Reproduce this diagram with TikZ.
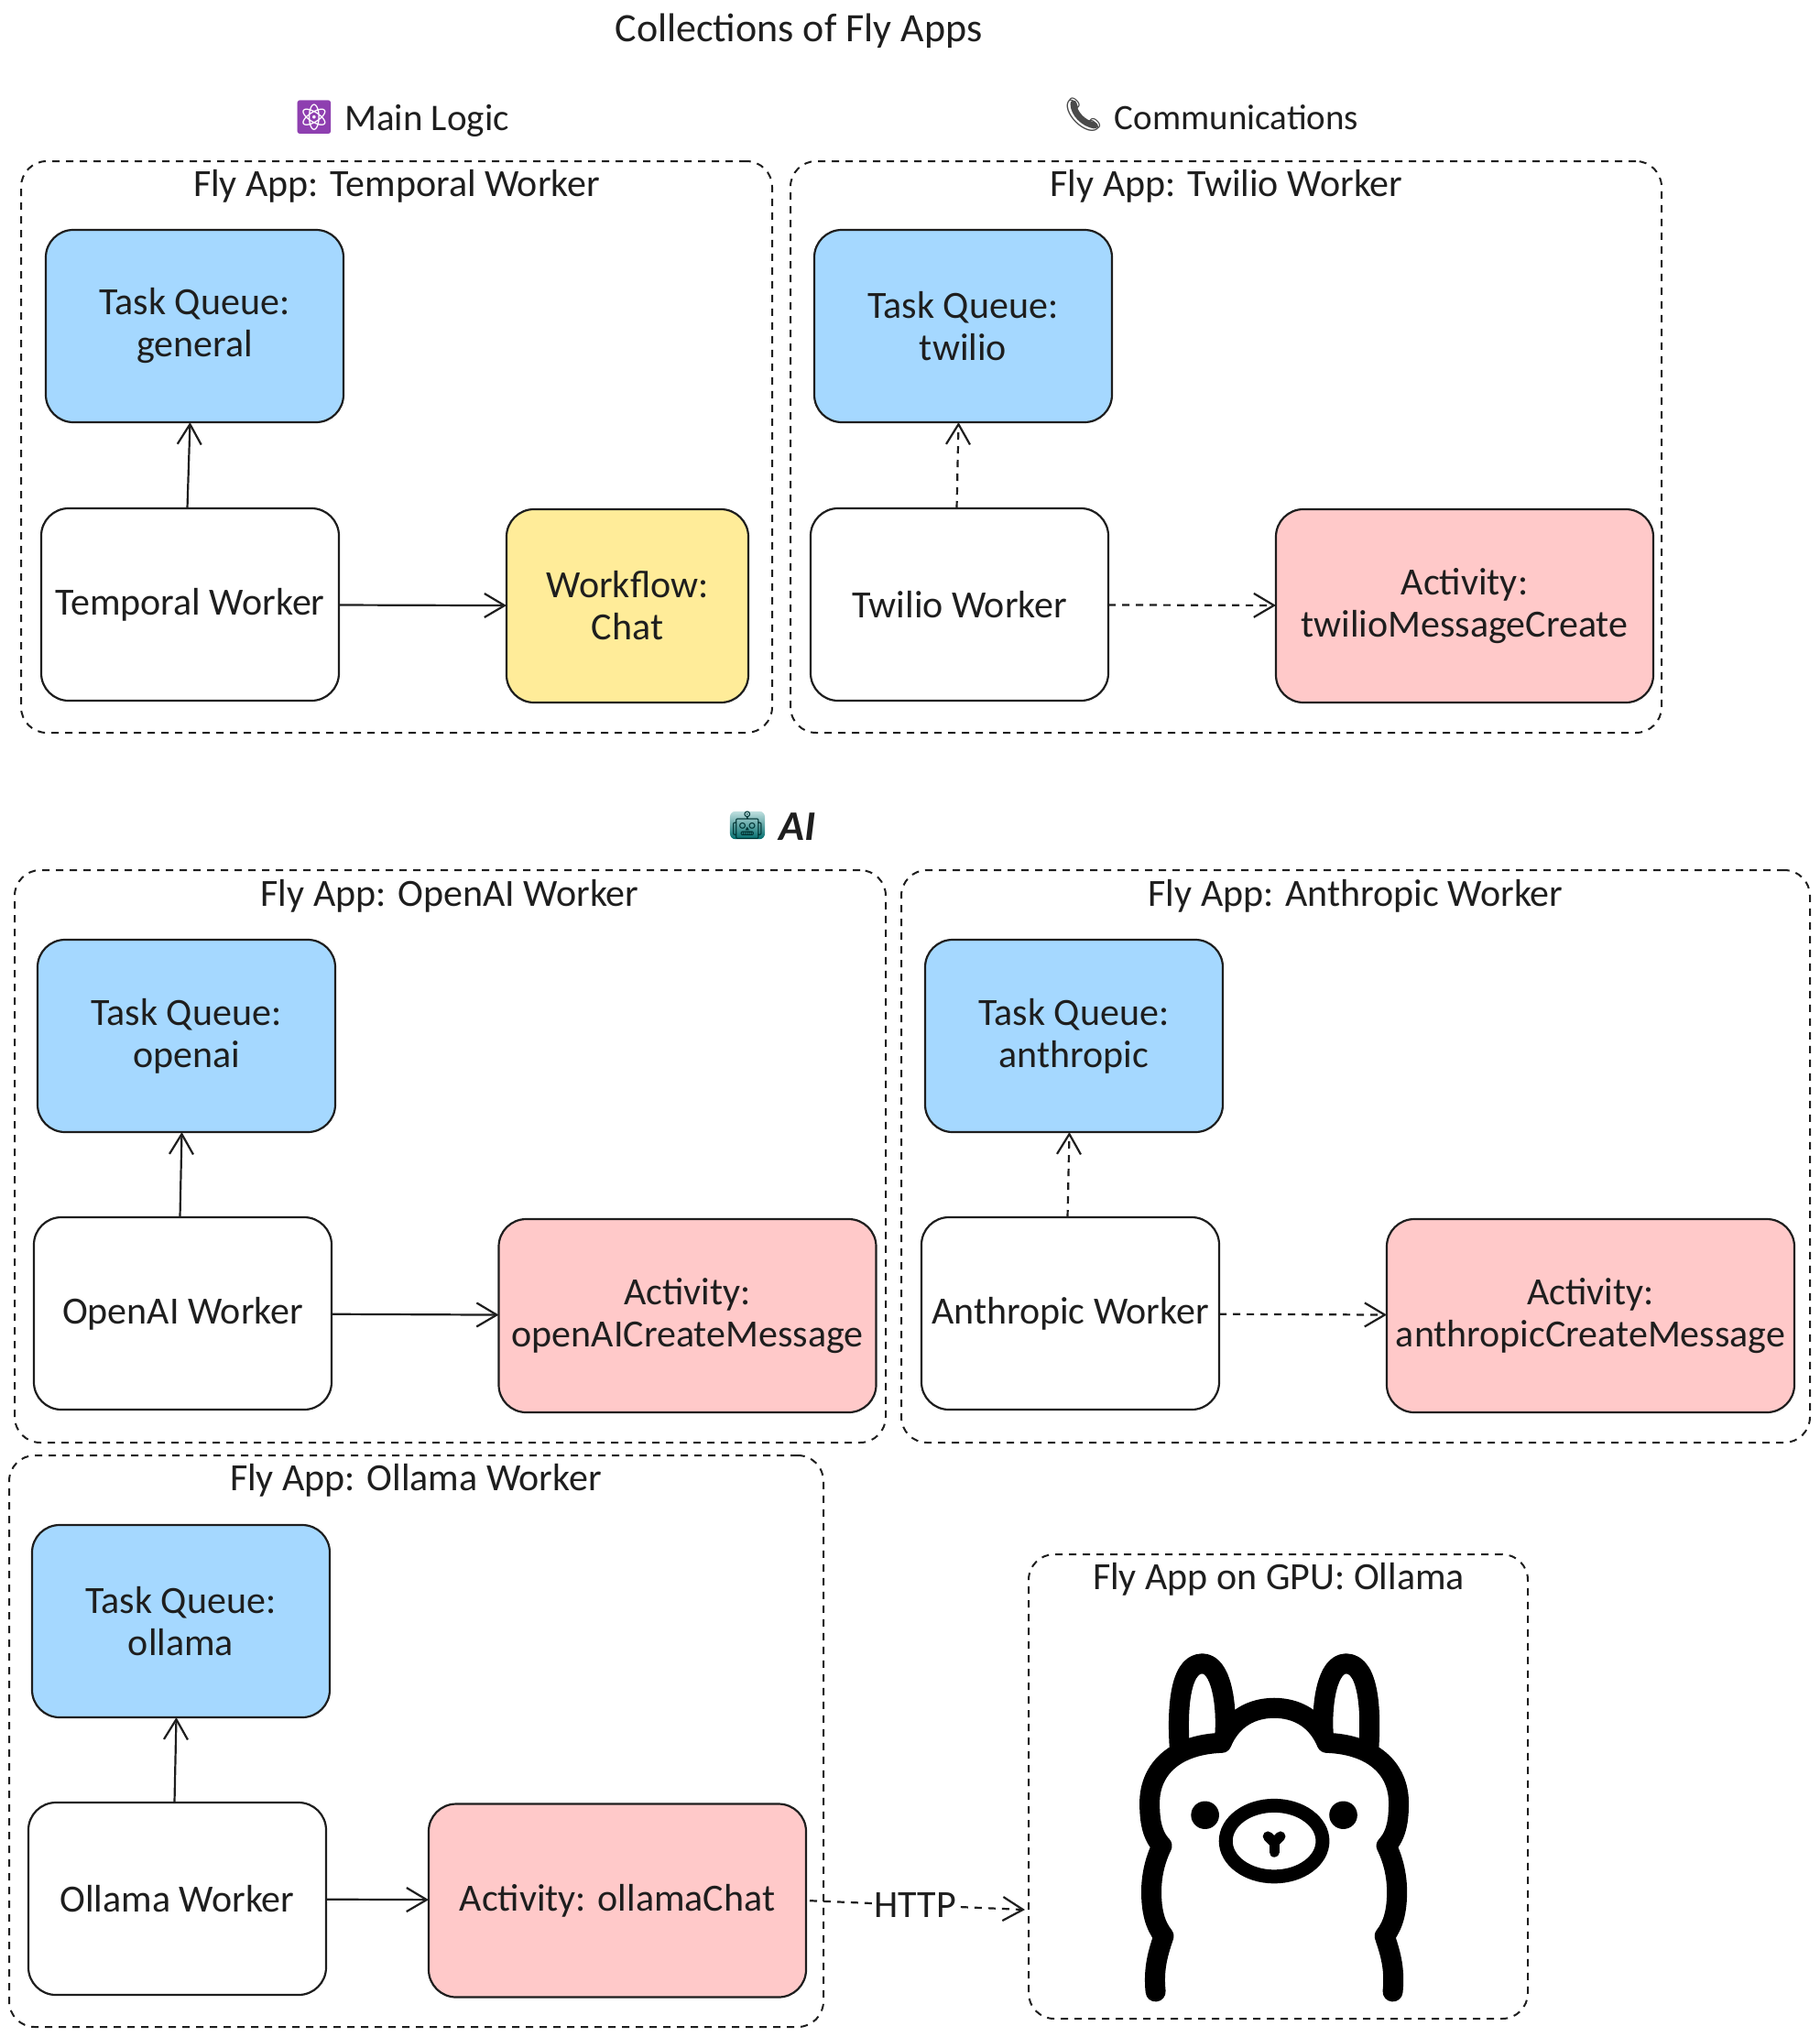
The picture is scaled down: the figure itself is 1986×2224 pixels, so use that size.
\documentclass[tikz,border=0pt]{standalone}
\usepackage{fontspec}
\setmainfont{Carlito}
\newfontfamily\emojifont{Noto Emoji}
\usetikzlibrary{arrows.meta}
\definecolor{inkline}{HTML}{1E1E1E}
\definecolor{queueblue}{HTML}{A5D8FF}
\definecolor{activityred}{HTML}{FFC9C9}
\definecolor{workflowyellow}{HTML}{FFEC99}
\definecolor{atompurple}{HTML}{8E3FB0}
\definecolor{phonegray}{HTML}{4A4A4A}
\tikzset{
	appgroup/.style={draw=inkline, line width=2pt, dash pattern=on 8pt off 7pt, rounded corners=28pt, inner sep=0pt, outer sep=0pt},
	titletext/.style={font=\fontsize{42}{50}\selectfont, text=inkline, inner sep=0pt},
	basebox/.style={draw=inkline, line width=2.2pt, rounded corners=30pt, align=center, font=\fontsize{42}{46}\selectfont, text=inkline, inner sep=0pt, outer sep=0pt, minimum width=325pt, minimum height=210pt},
	queuebox/.style={basebox, fill=queueblue},
	workerbox/.style={basebox, fill=white},
	activitybox/.style={basebox, fill=activityred, minimum width=412pt, minimum height=211pt},
	flow/.style={draw=inkline, line width=2.2pt, -{Straight Barb[length=22pt,width=26pt,line width=2.2pt]}},
	flowdash/.style={flow, dash pattern=on 8pt off 7pt}
}
\begin{document}
\begin{tikzpicture}[x=1pt,y=-1pt]
	\useasboundingbox (0,0) rectangle (1986,2224);
	
	\node[titletext, font=\fontsize{44}{50}\selectfont] (collections) at (872,34) {Collections of Fly Apps};
	\node[inner sep=0pt, fill=white, text=atompurple, font=\emojifont\fontsize{36}{36}\selectfont] (atomicon) at (343,128) {⚛};
	\node[titletext, font=\fontsize{41}{50}\selectfont] (mainlogic) at (466,132) {Main Logic};
	\draw[phonegray, line width=7pt, line cap=round] (1172,113) .. controls (1172,124) and (1183,135) .. (1195,137);
	\node[inner sep=0pt, text=phonegray, font=\emojifont\fontsize{36}{36}\selectfont] (phoneicon) at (1183,125) {📞};
	\node[titletext, font=\fontsize{39}{50}\selectfont] (communications) at (1350,128) {Communications};
	\node[inner sep=0pt, minimum size=28pt, rounded corners=6pt, top color=teal!25, bottom color=teal!85!black, text=teal!40!black, font=\emojifont\fontsize{30}{30}\selectfont] (roboticon) at (816,901) {🤖};
	\node[titletext, font=\itshape\bfseries\fontsize{46}{50}\selectfont] (ailabel) at (871,903) {AI};
	
	% app frames
	\node[appgroup, minimum width=820pt, minimum height=624pt] (temporalapp) at (433,488) {};
	\node[appgroup, minimum width=951pt, minimum height=624pt] (twilioapp) at (1338.5,488) {};
	\node[appgroup, minimum width=951pt, minimum height=625pt] (openaiapp) at (491.5,1262.5) {};
	\node[appgroup, minimum width=992pt, minimum height=625pt] (anthropicapp) at (1480,1262.5) {};
	\node[appgroup, minimum width=889pt, minimum height=624pt] (ollamaapp) at (454.5,1901) {};
	\node[appgroup, minimum width=545pt, minimum height=507pt] (gpuapp) at (1395.5,1950.5) {};
	\node[titletext] (temporaltitle) at (433,203) {Fly App: Temporal Worker};
	\node[titletext] (twiliotitle) at (1339,203) {Fly App: Twilio Worker};
	\node[titletext] (openaititle) at (491,978) {Fly App: OpenAI Worker};
	\node[titletext] (anthropictitle) at (1480,978) {Fly App: Anthropic Worker};
	\node[titletext] (ollamatitle) at (454,1616) {Fly App: Ollama Worker};
	\node[titletext] (gputitle) at (1396,1724) {Fly App on GPU: Ollama};
	
	% temporal
	\node[queuebox] (generalqueue) at (212.5,356) {Task Queue:\\general};
	\node[workerbox] (temporalworker) at (207.5,660) {Temporal Worker};
	\node[basebox, fill=workflowyellow, minimum width=264pt, minimum height=211pt] (chatflow) at (685,661.5) {Workflow:\\Chat};
	\draw[flow] ([xshift=-3pt]temporalworker.north) -- ([xshift=-5pt]generalqueue.south);
	\draw[flow] (temporalworker) -- (chatflow);
	
	% twilio
	\node[queuebox] (twilioqueue) at (1051.5,356) {Task Queue:\\twilio};
	\node[workerbox] (twilioworker) at (1047.5,660) {Twilio Worker};
	\node[activitybox] (twilioactivity) at (1599,661.5) {Activity:\\twilioMessageCreate};
	\draw[flowdash] ([xshift=-3pt]twilioworker.north) -- ([xshift=-5pt]twilioqueue.south);
	\draw[flowdash] (twilioworker) -- (twilioactivity);
	
	% openai
	\node[queuebox] (openaiqueue) at (203.5,1131) {Task Queue:\\openai};
	\node[workerbox] (openaiworker) at (199.5,1434) {OpenAI Worker};
	\node[activitybox] (openaiactivity) at (750.5,1436.5) {Activity:\\openAICreateMessage};
	\draw[flow] ([xshift=-3pt]openaiworker.north) -- ([xshift=-5pt]openaiqueue.south);
	\draw[flow] (openaiworker) -- (openaiactivity);
	
	% anthropic
	\node[queuebox] (anthropicqueue) at (1172.5,1131) {Task Queue:\\anthropic};
	\node[workerbox] (anthropicworker) at (1168.5,1434) {Anthropic Worker};
	\node[activitybox, minimum width=445pt] (anthropicactivity) at (1736.5,1436.5) {Activity:\\anthropicCreateMessage};
	\draw[flowdash] ([xshift=-3pt]anthropicworker.north) -- ([xshift=-5pt]anthropicqueue.south);
	\draw[flowdash] (anthropicworker) -- (anthropicactivity);
	
	% ollama
	\node[queuebox] (ollamaqueue) at (197.5,1770) {Task Queue:\\ollama};
	\node[workerbox] (ollamaworker) at (193.5,2073) {Ollama Worker};
	\node[activitybox] (ollamaactivity) at (674,2075) {Activity: ollamaChat};
	\draw[flow] ([xshift=-3pt]ollamaworker.north) -- ([xshift=-5pt]ollamaqueue.south);
	\draw[flow] (ollamaworker) -- (ollamaactivity);
	\coordinate (gputarget) at (1119,2085);
	\draw[flowdash, shorten <=4pt] (ollamaactivity.east) -- node[fill=white, inner sep=1pt, text=inkline, font=\fontsize{42}{44}\selectfont] (httplabel) {HTTP} (gputarget);
	
	% llama
	\begin{scope}[xshift=1100pt, yshift=-1681.4pt, xscale=0.383, yscale=0.346]
		\foreach \flipshift/\flipscale in {0/1,1520/-1} {
			\begin{scope}[xshift=\flipshift pt, xscale=\flipscale]
				\draw[black, line width=22pt, line cap=round, line join=round]
					(422,1425) .. controls (415,1350) and (430,1300) .. (445,1250)
					.. controls (420,1215) and (410,1170) .. (410,1110)
					.. controls (410,1060) and (420,1010) .. (440,965)
					.. controls (410,930) and (405,880) .. (405,830)
					.. controls (405,720) and (480,645) .. (610,640)
					.. controls (640,560) and (700,530) .. (760,530);
				\draw[black, line width=22pt, line cap=round, line join=round]
					(490,650) .. controls (485,560) and (485,390) .. (555,390)
					.. controls (610,390) and (625,520) .. (620,610);
				\fill[black] (563,868) ellipse (40 and 44);
				\draw[black, line width=11pt, line cap=round] (742,935) -- (760,955);
			\end{scope}
		}
		\draw[black, line width=15pt] (760,950) ellipse (138 and 112);
		\draw[black, line width=11pt, line cap=round] (760,955) -- (760,985);
	\end{scope}
\end{tikzpicture}
\end{document}
